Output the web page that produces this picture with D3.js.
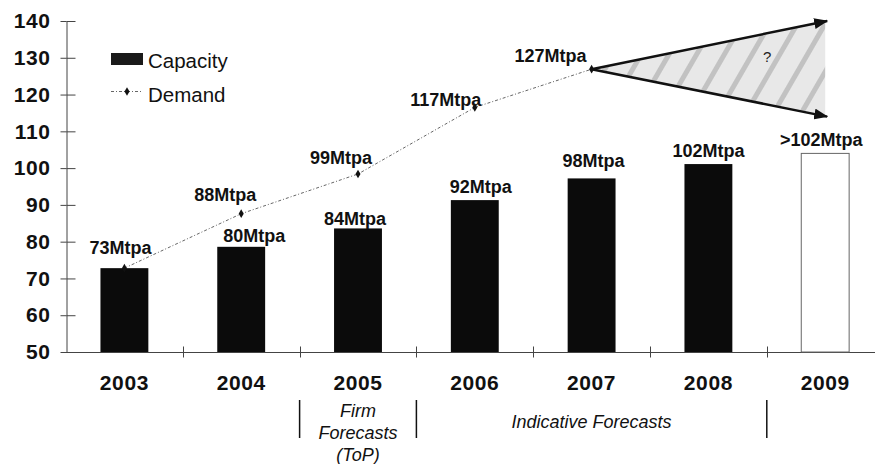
<!DOCTYPE html>
<html>
<head>
<meta charset="utf-8">
<script src="https://cdn.jsdelivr.net/npm/d3@7"></script>
<style>
  body { margin: 0; background: #fff; }
  svg { display: block; font-family: "Liberation Sans", Arial, sans-serif; }
  .tick-label { font-weight: bold; font-size: 21px; fill: #111; letter-spacing: 0.6px; }
  .val-label { font-weight: bold; font-size: 18px; fill: #111; }
  .legend-label { font-size: 20.5px; fill: #111; }
  .note { font-style: italic; font-size: 18px; fill: #111; }
</style>
</head>
<body>
<div id="chart"></div>
<script>
// capacity vs demand, Mtpa
const years = ["2003", "2004", "2005", "2006", "2007", "2008", "2009"];
const capacity = [72.8, 78.6, 83.6, 91.3, 97.2, 101.1, 104.0];
const capacityLabels = ["73Mtpa", "80Mtpa", "84Mtpa", "92Mtpa", "98Mtpa", "102Mtpa", ">102Mtpa"];
const demandYears = ["2003", "2004", "2005", "2006", "2007"];
const demand = [72.8, 87.6, 98.4, 116.5, 126.9];
const demandLabels = ["", "88Mtpa", "99Mtpa", "117Mtpa", "127Mtpa"];
const fanYear = "2009";
const fanHigh = 140;
const fanLow = 114;
const yTicks = [50, 60, 70, 80, 90, 100, 110, 120, 130, 140];

// little nudges so labels sit like in the original slide
const capNudge = [[-4, -14], [13, -5], [-3, -3], [6, -7], [2, -11], [0, -7], [-4, -7]];
const demNudge = [[0, 0], [-16, -13], [-17, -10], [-29, -1], [-41, -7]];

const width = 875,
  height = 464,
  margin = { top: 21, left: 66, bottom: 112 };

const svg = d3
  .select("#chart")
  .append("svg")
  .attr("width", width)
  .attr("height", height);

const x = d3
  .scaleBand()
  .domain(years)
  .range([margin.left, margin.left + 7 * 116.8])
  .padding(0);

const y = d3
  .scaleLinear()
  .domain([50, 140])
  .range([height - margin.bottom, margin.top]);

const cx = (d) => x(d) + x.bandwidth() / 2;
const barW = x.bandwidth() * 0.41;

// hatch for the uncertain future demand
const defs = svg.append("defs");
const pat = defs
  .append("pattern")
  .attr("id", "hatch")
  .attr("patternUnits", "userSpaceOnUse")
  .attr("width", 24)
  .attr("height", 24)
  .attr("patternTransform", "rotate(30)");
pat.append("rect").attr("width", 24).attr("height", 24).attr("fill", "#e8e8e8");
pat.append("rect").attr("x", 4).attr("width", 5).attr("height", 24).attr("fill", "#c2c2c2");

defs
  .append("marker")
  .attr("id", "arrow")
  .attr("viewBox", "0 0 14 11")
  .attr("refX", 13)
  .attr("refY", 5.5)
  .attr("markerWidth", 14)
  .attr("markerHeight", 11)
  .attr("markerUnits", "userSpaceOnUse")
  .attr("orient", "auto")
  .append("path")
  .attr("d", "M0,0L14,5.5L0,11Z")
  .attr("fill", "#111");

// y axis
const yAxis = svg
  .append("g")
  .attr("transform", `translate(${margin.left + 0.5},0)`)
  .call(d3.axisLeft(y).tickValues(yTicks).tickSize(6).tickSizeOuter(0).tickPadding(10));
yAxis.select(".domain").attr("stroke", "#444");
yAxis.selectAll(".tick line").attr("stroke", "#444");
yAxis
  .selectAll(".tick")
  .append("line")
  .attr("x2", 9)
  .attr("stroke", "#444");
yAxis.selectAll(".tick text").attr("class", "tick-label").attr("font-family", null).attr("font-size", null);

// x axis: line + ticks on category boundaries
const x0 = y(50) + 0.5;
svg
  .append("line")
  .attr("x1", margin.left)
  .attr("x2", x.range()[1])
  .attr("y1", x0)
  .attr("y2", x0)
  .attr("stroke", "#444");

svg
  .selectAll(".xtick")
  .data(years.slice(1))
  .join("line")
  .attr("class", "xtick")
  .attr("x1", (d) => Math.round(x(d)) + 0.5)
  .attr("x2", (d) => Math.round(x(d)) + 0.5)
  .attr("y1", x0 - 6)
  .attr("y2", x0 + 5)
  .attr("stroke", "#444");

svg
  .selectAll(".xlabel")
  .data(years)
  .join("text")
  .attr("class", "tick-label")
  .attr("x", (d) => cx(d))
  .attr("y", 390)
  .attr("text-anchor", "middle")
  .text((d) => d);

// bars
svg
  .selectAll(".bar")
  .data(years)
  .join("rect")
  .attr("class", "bar")
  .attr("x", (d) => cx(d) - barW / 2)
  .attr("width", barW)
  .attr("y", (d, i) => y(capacity[i]))
  .attr("height", (d, i) => y(50) - y(capacity[i]))
  .attr("fill", (d) => (d === fanYear ? "#fff" : "#0b0b0b"))
  .attr("stroke", (d) => (d === fanYear ? "#666" : "none"))
  .attr("stroke-width", 1);

svg
  .selectAll(".caplabel")
  .data(years)
  .join("text")
  .attr("class", "val-label")
  .attr("text-anchor", "middle")
  .attr("x", (d, i) => cx(d) + capNudge[i][0])
  .attr("y", (d, i) => y(capacity[i]) + capNudge[i][1])
  .text((d, i) => capacityLabels[i]);

// fan of possible demand after 2007
const last = demandYears.length - 1;
const fx0 = cx(demandYears[last]),
  fy0 = y(demand[last]);
const fx1 = cx(fanYear);

svg
  .append("path")
  .attr("d", `M${fx0},${fy0}L${fx1},${y(fanHigh)}L${fx1},${y(fanLow)}Z`)
  .attr("fill", "url(#hatch)");

[fanHigh, fanLow].forEach((v) => {
  svg
    .append("line")
    .attr("x1", fx0)
    .attr("y1", fy0)
    .attr("x2", fx1 + 2)
    .attr("y2", y(v))
    .attr("stroke", "#111")
    .attr("stroke-width", 2.5)
    .attr("marker-end", "url(#arrow)");
});

svg
  .append("text")
  .attr("x", fx1 - 58)
  .attr("y", y((fanHigh + fanLow) / 2) - 7)
  .attr("text-anchor", "middle")
  .attr("font-size", 15)
  .attr("fill", "#222")
  .text("?");

// demand line
const line = d3
  .line()
  .x((d, i) => cx(demandYears[i]))
  .y((d) => y(d));

svg
  .append("path")
  .datum(demand)
  .attr("d", line)
  .attr("fill", "none")
  .attr("stroke", "#666")
  .attr("stroke-width", 1)
  .attr("stroke-dasharray", "3,2,1,2");

svg
  .selectAll(".dpt")
  .data(demand)
  .join("path")
  .attr("class", "dpt")
  .attr("transform", (d, i) => `translate(${cx(demandYears[i])},${y(d)})`)
  .attr("d", d3.symbol(d3.symbolDiamond, 22))
  .attr("fill", "#111");

svg
  .selectAll(".demlabel")
  .data(demand)
  .join("text")
  .attr("class", "val-label")
  .attr("text-anchor", "middle")
  .attr("x", (d, i) => cx(demandYears[i]) + demNudge[i][0])
  .attr("y", (d, i) => y(d) + demNudge[i][1])
  .text((d, i) => demandLabels[i]);

// legend
svg
  .append("rect")
  .attr("x", 111)
  .attr("y", 53)
  .attr("width", 32)
  .attr("height", 12)
  .attr("fill", "#1a1a1a");
svg
  .append("text")
  .attr("class", "legend-label")
  .attr("x", 148)
  .attr("y", 68)
  .text("Capacity");

svg
  .append("line")
  .attr("x1", 111)
  .attr("x2", 143)
  .attr("y1", 91.5)
  .attr("y2", 91.5)
  .attr("stroke", "#666")
  .attr("stroke-dasharray", "3,2,1,2");
svg
  .append("path")
  .attr("transform", "translate(127,91.5)")
  .attr("d", d3.symbol(d3.symbolDiamond, 22))
  .attr("fill", "#111");
svg
  .append("text")
  .attr("class", "legend-label")
  .attr("x", 148)
  .attr("y", 102)
  .text("Demand");

// forecast notes under the axis
svg
  .selectAll(".sep")
  .data(["2005", "2006", "2009"])
  .join("line")
  .attr("class", "sep")
  .attr("x1", (d) => x(d))
  .attr("x2", (d) => x(d))
  .attr("y1", 400)
  .attr("y2", 438)
  .attr("stroke", "#111")
  .attr("stroke-width", 1.5);

const firm = svg
  .append("text")
  .attr("class", "note")
  .attr("text-anchor", "middle");
["Firm", "Forecasts", "(ToP)"].forEach((t, i) => {
  firm
    .append("tspan")
    .attr("x", cx("2005"))
    .attr("y", 417 + i * 22)
    .text(t);
});

svg
  .append("text")
  .attr("class", "note")
  .attr("text-anchor", "middle")
  .attr("x", (x("2006") + x("2009")) / 2)
  .attr("y", 428)
  .text("Indicative Forecasts");
</script>
</body>
</html>
